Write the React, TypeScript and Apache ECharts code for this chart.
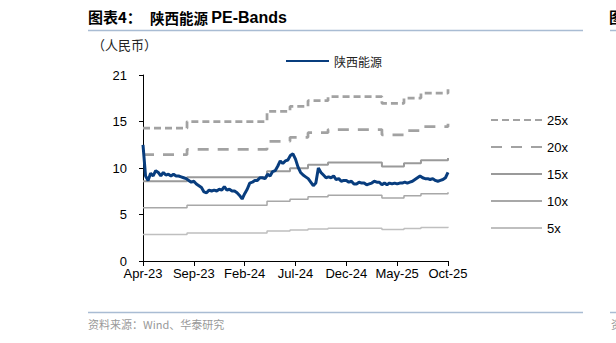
import React, { useEffect, useRef } from 'react';
import * as echarts from 'echarts';

const xTickLabels = ['Apr-23', 'Sep-23', 'Feb-24', 'Jul-24', 'Dec-24', 'May-25', 'Oct-25'];
const yTickLabels = ['0', '5', '10', '15', '21'];

const priceName = '陕西能源';
// weekly closes (x in months since Apr-23, step 0.25)
const priceStepMonths = 0.25;
const priceValues = [
  13.1, 9.6, 9.1, 9.9, 9.6, 10.2, 10.0, 9.6, 10.0, 9.7,
  9.8, 9.6, 9.8, 9.6, 9.6, 9.5, 9.4, 9.3, 9.1, 8.9,
  9.0, 8.7, 8.5, 8.3, 7.8, 7.7, 8.0, 7.9, 8.0, 7.9,
  8.1, 8.0, 8.4, 8.0, 8.1, 7.9, 7.9, 7.7, 7.4, 7.0,
  7.6, 8.1, 8.8, 8.9, 9.1, 9.1, 9.4, 9.4, 9.3, 9.8,
  9.6, 10.1, 10.2, 10.7, 11.3, 11.0, 11.3, 11.4, 11.9, 12.1,
  11.5, 10.6, 10.0, 9.7, 9.5, 9.3, 8.9, 8.5, 8.8, 10.5,
  10.0, 9.7, 9.4, 9.5, 9.4, 9.6, 9.2, 9.3, 9.0, 9.1,
  9.1, 8.9, 9.0, 8.7, 8.7, 8.9, 8.8, 8.8, 8.6, 8.7,
  8.8, 9.0, 8.9, 8.9, 8.6, 8.8, 8.6, 8.8, 8.7, 8.8,
  8.7, 8.8, 8.8, 8.9, 8.8, 8.9, 9.0, 9.2, 9.4, 9.6,
  9.4, 9.3, 9.3, 9.2, 9.3, 9.1, 9.0, 9.1, 9.2, 9.4,
  10.0,
];

const bandNames = ['25x', '20x', '15x', '10x', '5x'];
// months at which the EPS-based bands step
const bandStepMonths = [0, 4.33, 12.2, 14.46, 16.23, 18.2, 23.5, 25.67, 27.34, 30];
const band25x = [15.0, 15.75, 16.9, 17.45, 18.1, 18.55, 17.8, 18.4, 18.95, 19.38];
const band20x = [12.0, 12.6, 13.52, 13.96, 14.48, 14.84, 14.24, 14.72, 15.16, 15.5];
const band15x = [9.0, 9.45, 10.14, 10.47, 10.86, 11.13, 10.68, 11.04, 11.37, 11.63];
const band10x = [6.0, 6.3, 6.76, 6.98, 7.24, 7.42, 7.12, 7.36, 7.58, 7.75];
const band5x = [3.0, 3.15, 3.38, 3.49, 3.62, 3.71, 3.56, 3.68, 3.79, 3.88];

const LATIN = 'Liberation Sans, Arial, Noto Sans CJK SC, sans-serif';
const CJK = 'Noto Sans CJK SC, sans-serif';

export default function App() {
  const ref = useRef<HTMLDivElement>(null);
  useEffect(() => {
    if (!ref.current) return;
    const chart = echarts.init(ref.current, undefined, { renderer: 'svg' });
    const pricePts = priceValues.map((v, i) => [i * priceStepMonths, v]);
    const bandPts = (arr: number[]) => arr.map((v, i) => [bandStepMonths[i], v]);
    const bandStyles: any[] = [
      { color: '#A2A2A2', width: 2.75, type: [7, 4] },
      { color: '#A2A2A2', width: 2.75, type: [11, 9] },
      { color: '#9A9A9A', width: 2, type: 'solid' },
      { color: '#A8A8A8', width: 1.5, type: 'solid' },
      { color: '#BFBFBF', width: 1.5, type: 'solid' },
    ];
    const bandData = [band25x, band20x, band15x, band10x, band5x];
    const option: any = {
      animation: false,
      grid: { left: 143, right: 168, top: 75, bottom: 82, containLabel: false },
      legend: [
        {
          data: [priceName],
          left: 285,
          top: 55,
          padding: 0,
          itemWidth: 43,
          itemHeight: 12,
          itemStyle: { opacity: 0 },
          textStyle: { fontFamily: CJK, fontSize: 12, color: '#222' },
        },
        {
          data: bandNames,
          orient: 'vertical',
          left: 490,
          top: 113.5,
          padding: 0,
          itemWidth: 51,
          itemHeight: 14,
          itemGap: 14,
          itemStyle: { opacity: 0 },
          textStyle: { fontFamily: LATIN, fontSize: 13, color: '#000' },
        },
      ],
      xAxis: {
        type: 'value',
        min: 0,
        max: 30,
        interval: 5,
        splitLine: { show: false },
        axisLine: { show: true, lineStyle: { color: '#000', width: 1 } },
        axisTick: { show: true, length: 5, lineStyle: { color: '#000' } },
        axisLabel: {
          margin: 6,
          fontFamily: LATIN,
          fontSize: 13,
          color: '#000',
          formatter: (v: number) => xTickLabels[Math.round(v / 5)] ?? '',
        },
      },
      yAxis: {
        type: 'value',
        min: 0,
        max: 21,
        interval: 5.25,
        splitLine: { show: false },
        axisLine: { show: true, lineStyle: { color: '#000', width: 1 } },
        axisTick: { show: true, length: 4, lineStyle: { color: '#000' } },
        axisLabel: {
          margin: 16,
          fontFamily: LATIN,
          fontSize: 13,
          color: '#000',
          formatter: (v: number) => yTickLabels[Math.round(v / 5.25)] ?? '',
        },
      },
      series: [
        ...bandNames.map((n, i) => ({
          name: n,
          type: 'line',
          step: 'end',
          symbol: 'none',
          data: bandPts(bandData[i]),
          lineStyle: bandStyles[i],
          itemStyle: { color: bandStyles[i].color },
          z: 2,
        })),
        {
          name: priceName,
          type: 'line',
          symbol: 'none',
          data: pricePts,
          lineStyle: { color: '#083D7E', width: 3 },
          itemStyle: { color: '#083D7E' },
          z: 5,
        },
      ],
      graphic: [
        {
          type: 'text',
          left: 88,
          top: 9,
          style: { text: '图表4：', fontFamily: CJK, fontSize: 15, fontWeight: 'bold', fill: '#000' },
        },
        {
          type: 'text',
          left: 150,
          top: 9,
          style: {
            text: '{a|陕西能源} {b|PE-Bands}',
            rich: {
              a: { fontFamily: CJK, fontSize: 14.5, fontWeight: 'bold', fill: '#000', color: '#000' },
              b: { fontFamily: LATIN, fontSize: 16, fontWeight: 'bold', fill: '#000', color: '#000' },
            },
          },
        },
        { type: 'line', shape: { x1: 88, y1: 30.5, x2: 583, y2: 30.5 }, style: { stroke: '#A9BCD3', lineWidth: 1.5 } },
        { type: 'line', shape: { x1: 610, y1: 30.5, x2: 616, y2: 30.5 }, style: { stroke: '#A9BCD3', lineWidth: 1.5 } },
        {
          type: 'text',
          left: 609,
          top: 9,
          style: { text: '图', fontFamily: CJK, fontSize: 15, fontWeight: 'bold', fill: '#000' },
        },
        {
          type: 'text',
          left: 92,
          top: 38,
          style: { text: '（人民币）', fontFamily: CJK, fontSize: 13, fill: '#222' },
        },
        { type: 'line', shape: { x1: 88, y1: 312.5, x2: 583, y2: 312.5 }, style: { stroke: '#A9BCD3', lineWidth: 1.5 } },
        { type: 'line', shape: { x1: 610, y1: 312.5, x2: 616, y2: 312.5 }, style: { stroke: '#A9BCD3', lineWidth: 1.5 } },
        {
          type: 'text',
          left: 88,
          top: 318,
          style: { text: '资料来源：Wind、华泰研究', fontFamily: CJK, fontSize: 11, fill: '#999' },
        },
        {
          type: 'text',
          left: 611,
          top: 318,
          style: { text: '资', fontFamily: CJK, fontSize: 11, fill: '#999' },
        },
      ],
    };
    chart.setOption(option);
    return () => chart.dispose();
  }, []);
  return (
    <div
      ref={ref}
      style={{ position: 'fixed', left: 0, top: 0, width: 616, height: 343, background: '#fff' }}
    />
  );
}
